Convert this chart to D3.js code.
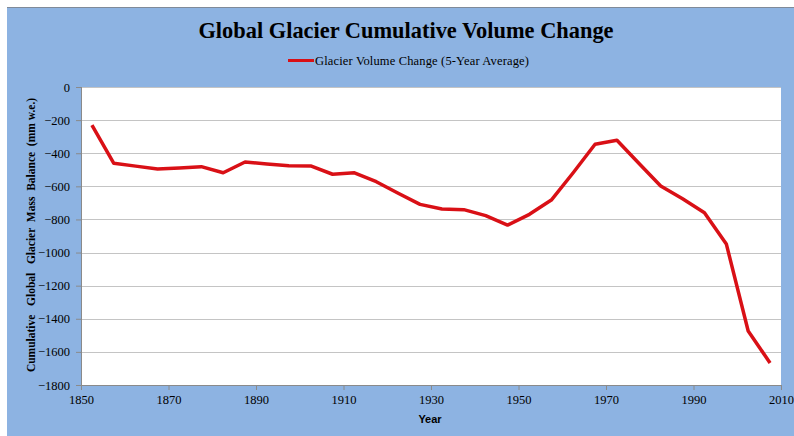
<!DOCTYPE html>
<html>
<head>
<meta charset="utf-8">
<script src="https://cdn.jsdelivr.net/npm/d3@7"></script>
<style>
  html, body { margin: 0; padding: 0; background: #ffffff; }
  svg { display: block; }
</style>
</head>
<body>
<script>
const years = [1852.5, 1857.5, 1862.5, 1867.5, 1872.5, 1877.5, 1882.5, 1887.5, 1892.5, 1897.5,
  1902.5, 1907.5, 1912.5, 1917.5, 1922.5, 1927.5, 1932.5, 1937.5, 1942.5, 1947.5,
  1952.5, 1957.5, 1962.5, 1967.5, 1972.5, 1977.5, 1982.5, 1987.5, 1992.5, 1997.5,
  2002.5, 2007.5];
const values = [-230, -461, -478, -495, -489, -481, -518, -453, -465, -475,
  -477, -527, -518, -572, -642, -709, -737, -741, -777, -834,
  -769, -683, -518, -346, -322, -461, -598, -675, -759, -948,
  -1474, -1667];
const xTicks = [1850, 1870, 1890, 1910, 1930, 1950, 1970, 1990, 2010];
const yTicks = [0, -200, -400, -600, -800, -1000, -1200, -1400, -1600, -1800];
const titleText = "Global Glacier Cumulative Volume Change";
const legendText = "Glacier Volume Change (5-Year Average)";
const yTitle = "Cumulative   Global   Glacier  Mass  Balance  (mm w.e.)";
const xTitle = "Year";

const W = 794, H = 436;
const svg = d3.select("body").append("svg").attr("width", W).attr("height", H);

svg.append("rect").attr("x", 0).attr("y", 0).attr("width", W).attr("height", H).attr("fill", "#ffffff");
svg.append("rect").attr("x", 7).attr("y", 7).attr("width", W - 7).attr("height", H - 7).attr("fill", "#8db3e2");
svg.append("line").attr("x1", 7).attr("x2", W).attr("y1", 7.5).attr("y2", 7.5).attr("stroke", "#7f8a99").attr("stroke-width", 1);

const plot = { left: 81, right: 781, top: 87, bottom: 385 };
const x = d3.scaleLinear().domain([1850, 2010]).range([plot.left, plot.right]);
const y = d3.scaleLinear().domain([-1800, 0]).range([plot.bottom, plot.top]);

svg.append("rect").attr("x", plot.left).attr("y", plot.top)
  .attr("width", plot.right - plot.left).attr("height", plot.bottom - plot.top)
  .attr("fill", "#ffffff");

svg.append("g").selectAll("line").data(yTicks.filter(d => d !== -1800)).join("line")
  .attr("x1", plot.left).attr("x2", plot.right)
  .attr("y1", d => Math.round(y(d)) + 0.5).attr("y2", d => Math.round(y(d)) + 0.5)
  .attr("stroke", "#c4c4c4").attr("stroke-width", 1);

const yAxis = d3.axisLeft(y).tickValues(yTicks).tickSize(5).tickPadding(6).tickFormat(d3.format("d"));
const gy = svg.append("g").attr("transform", `translate(${plot.left},0)`).call(yAxis);
const xAxis = d3.axisBottom(x).tickValues(xTicks).tickSize(5).tickPadding(5).tickFormat(d3.format("d"));
const gx = svg.append("g").attr("transform", `translate(0,${plot.bottom})`).call(xAxis);
[gx, gy].forEach(g => {
  g.selectAll("path, line").attr("stroke", "#8a8a8a");
  g.selectAll("text").attr("fill", "#000").style("font-family", "'Liberation Serif', 'Times New Roman', serif").style("font-size", "12.5px");
});
gx.select("path").attr("d", `M${plot.left},0.5H${plot.right}`);
gy.select("path").attr("d", `M0.5,${plot.top}V${plot.bottom}`);

const line = d3.line().x((d, i) => x(years[i])).y(d => y(d));
svg.append("path").datum(values).attr("d", line)
  .attr("fill", "none").attr("stroke", "#d91016").attr("stroke-width", 3.5)
  .attr("stroke-linejoin", "round").attr("stroke-linecap", "butt");

svg.append("text").attr("x", 406).attr("y", 38).attr("text-anchor", "middle")
  .style("font-family", "'Liberation Serif', 'Times New Roman', serif")
  .style("font-weight", "bold").style("font-size", "22.4px").text(titleText);

svg.append("line").attr("x1", 288).attr("x2", 314).attr("y1", 60.5).attr("y2", 60.5)
  .attr("stroke", "#d91016").attr("stroke-width", 3);
svg.append("text").attr("x", 315).attr("y", 65)
  .style("font-family", "'Liberation Serif', 'Times New Roman', serif")
  .style("font-size", "12.5px").style("letter-spacing", "0.15px").text(legendText);

svg.append("text").attr("transform", `translate(35,235) rotate(-90)`).attr("text-anchor", "middle")
  .style("font-family", "'Liberation Serif', 'Times New Roman', serif")
  .style("font-weight", "bold").style("font-size", "11.5px").style("white-space", "pre")
  .attr("xml:space", "preserve").text(yTitle);

svg.append("text").attr("x", 430).attr("y", 423).attr("text-anchor", "middle")
  .style("font-family", "'Liberation Sans', Arial, sans-serif")
  .style("font-weight", "bold").style("font-size", "11px").text(xTitle);
</script>
</body>
</html>
